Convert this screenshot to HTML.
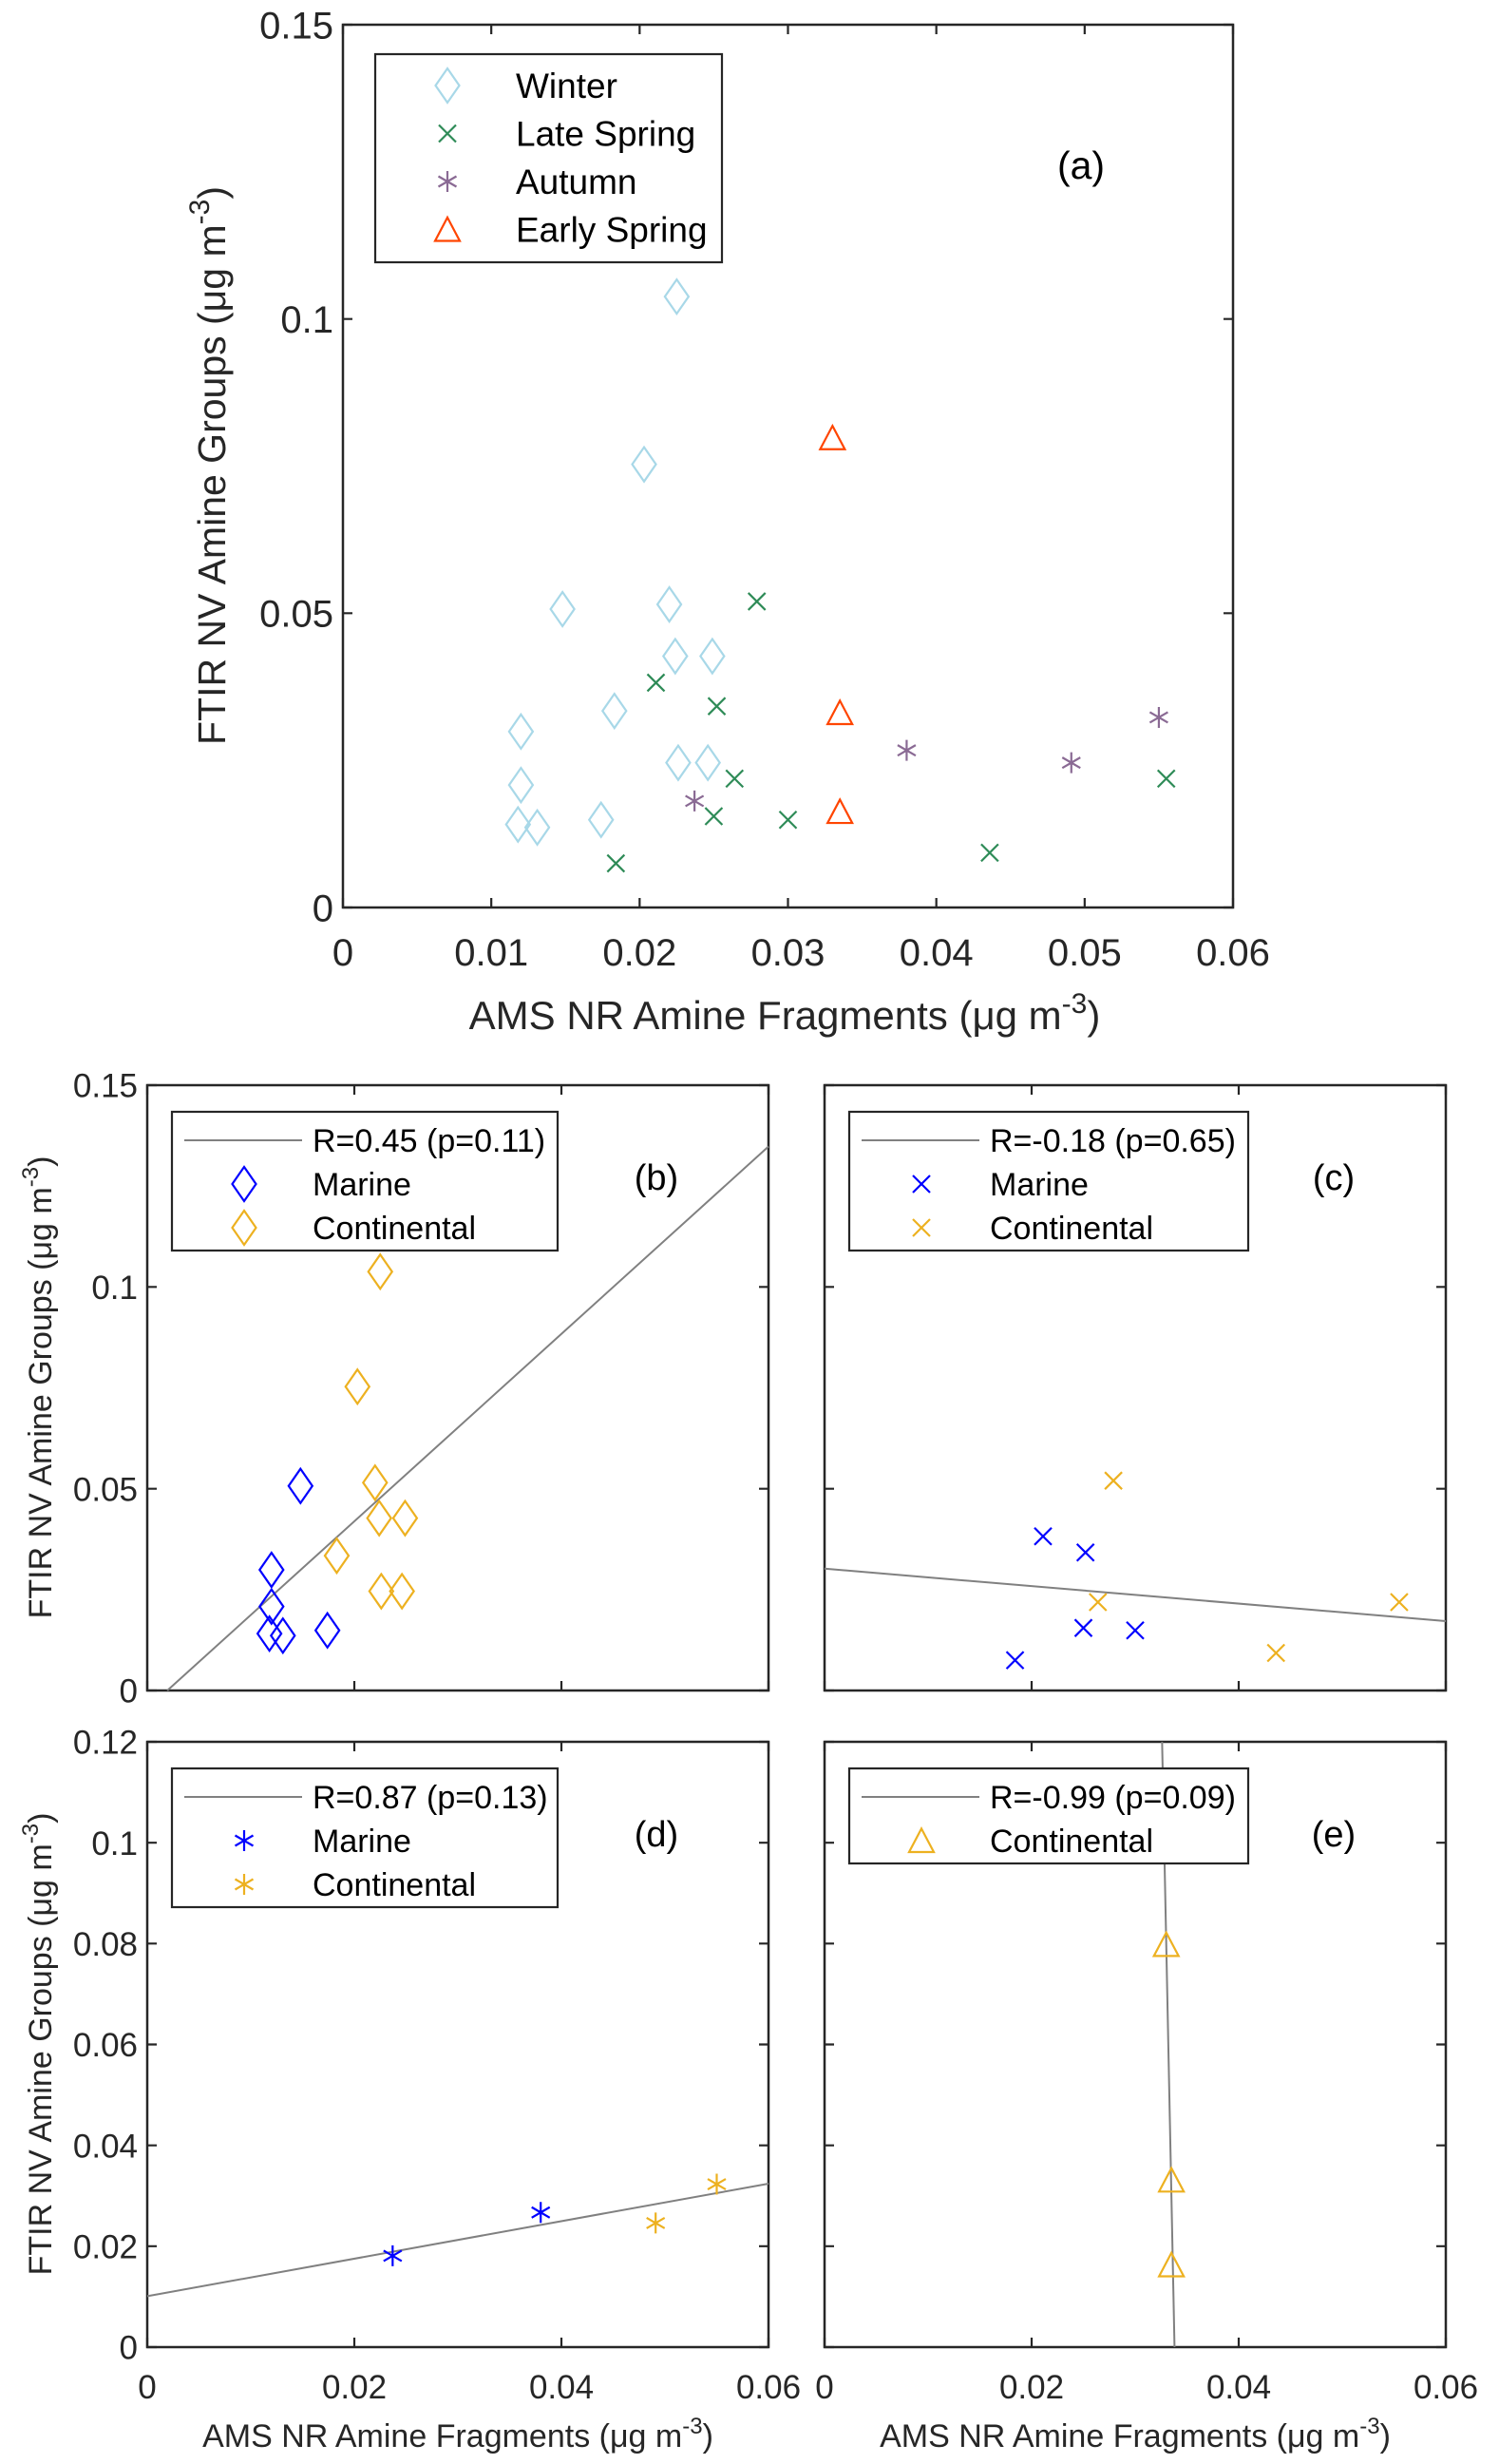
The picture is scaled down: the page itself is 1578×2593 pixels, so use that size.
<!DOCTYPE html>
<html><head><meta charset="utf-8">
<style>
html,body{margin:0;padding:0;background:#fff;}
svg{display:block;font-family:"Liberation Sans",Arial,sans-serif;}
</style></head>
<body>
<svg id="fig" width="1578" height="2593" viewBox="0 0 1578 2593" xmlns="http://www.w3.org/2000/svg"></svg>
<script>
// ---- Data ----
const winterX = [0.0225,0.0203,0.0148,0.0220,0.0224,0.0249,0.0183,0.0120,0.0120,0.0118,0.0131,0.0174,0.0226,0.0246];
const winterY = [0.1038,0.0753,0.0507,0.0515,0.0427,0.0427,0.0334,0.0299,0.0208,0.0141,0.0136,0.0149,0.0246,0.0246];
const winterMarine = [0,0,1,0,0,0,0,1,1,1,1,1,0,0];
const lateX = [0.0279,0.0211,0.0252,0.0264,0.0250,0.0300,0.0184,0.0436,0.0555];
const lateY = [0.0520,0.0382,0.0342,0.0219,0.0155,0.0149,0.0075,0.0093,0.0219];
const lateMarine = [0,1,1,0,1,1,1,0,0];
const autumnX = [0.0237,0.0380,0.0491,0.0550];
const autumnY = [0.0181,0.0267,0.0246,0.0323];
const autumnMarine = [1,1,0,0];
const earlyX = [0.0330,0.0335,0.0335];
const earlyY = [0.0798,0.0331,0.0163];
const fitB = [[0.00194,0],[0.06,0.1348]];
const fitC = [[0,0.0302],[0.06,0.0172]];
const fitD = [[0,0.0101],[0.06,0.0324]];
const fitE = [[0.0326,0.12],[0.0338,0]];
const xTicksA = [0,0.01,0.02,0.03,0.04,0.05,0.06];
const xTickLabelsA = ["0","0.01","0.02","0.03","0.04","0.05","0.06"];
const yTicks15 = [0,0.05,0.1,0.15];
const yTickLabels15 = ["0","0.05","0.1","0.15"];
const xTicksS = [0,0.02,0.04,0.06];
const xTickLabelsS = ["0","0.02","0.04","0.06"];
const yTicks12 = [0,0.02,0.04,0.06,0.08,0.1,0.12];
const yTickLabels12 = ["0","0.02","0.04","0.06","0.08","0.1","0.12"];

const NS="http://www.w3.org/2000/svg";
const svg=document.getElementById('fig');
function mk(tag,attrs,parent,name,txt){
  const e=document.createElementNS(NS,tag);
  for(const k in attrs) e.setAttribute(k,attrs[k]);
  
  
  if(txt!==undefined) e.textContent=txt;
  (parent||svg).appendChild(e);
  return e;
}
const C={winter:'#a8d8e8',late:'#2e8b57',autumn:'#8a6a94',early:'#ff4500',marine:'#0000ff',cont:'#edb120'};

function marker(g,type,cx,cy,col,name){
  let e;
  if(type==='d'){
    const w=12.5,h=18;
    e=mk('polygon',{points:`${cx},${cy-h} ${cx+w},${cy} ${cx},${cy+h} ${cx-w},${cy}`,fill:'none',stroke:col,'stroke-width':2.2},g,name);
  }else if(type==='x'){
    const r=9;
    e=mk('path',{d:`M${cx-r},${cy-r}L${cx+r},${cy+r}M${cx-r},${cy+r}L${cx+r},${cy-r}`,stroke:col,'stroke-width':2.2,fill:'none'},g,name);
  }else if(type==='*'){
    const r=11,r2=9.5;
    e=mk('path',{d:`M${cx},${cy-r}L${cx},${cy+r}M${cx-r2},${cy-r2*0.58}L${cx+r2},${cy+r2*0.58}M${cx-r2},${cy+r2*0.58}L${cx+r2},${cy-r2*0.58}`,stroke:col,'stroke-width':2.2,fill:'none'},g,name);
  }else{
    const w=13,h=12;
    e=mk('polygon',{points:`${cx},${cy-h*1.05} ${cx+w},${cy+h} ${cx-w},${cy+h}`,fill:'none',stroke:col,'stroke-width':2.2},g,name);
  }
  return e;
}

function axes(o){
  const g=mk('g',{},svg,o.name);
  const sx=v=>o.x0+(v-o.xmin)/(o.xmax-o.xmin)*(o.x1-o.x0);
  const sy=v=>o.y1-(v-o.ymin)/(o.ymax-o.ymin)*(o.y1-o.y0);
  mk('rect',{x:o.x0,y:o.y0,width:o.x1-o.x0,height:o.y1-o.y0,fill:'none',stroke:'#262626','stroke-width':2.5},g,'plot-frame');
  const tl=10;
  o.xt.forEach((v,i)=>{
    const X=sx(v);
    mk('path',{d:`M${X},${o.y1}v${-tl}M${X},${o.y0}v${tl}`,stroke:'#262626','stroke-width':2.2},g,'x-tick');
    if(o.xl) mk('text',{x:X,y:o.xly,'text-anchor':'middle','font-size':o.fs,fill:'#262626'},g,'x-tick-label',o.xl[i]);
  });
  o.yt.forEach((v,i)=>{
    const Y=sy(v);
    mk('path',{d:`M${o.x0},${Y}h${tl}M${o.x1},${Y}h${-tl}`,stroke:'#262626','stroke-width':2.2},g,'y-tick');
    if(o.yl) mk('text',{x:o.x0-10,y:Y+o.fs*0.36,'text-anchor':'end','font-size':o.fs,fill:'#262626'},g,'y-tick-label',o.yl[i]);
  });
  return {g,sx,sy};
}

// ---- Panel (a) ----
const A=axes({name:'panel-a',x0:361,x1:1298,y0:26,y1:955,xmin:0,xmax:0.06,ymin:0,ymax:0.15,xt:xTicksA,xl:xTickLabelsA,yt:yTicks15,yl:yTickLabels15,fs:40,xly:1016});
const ga=mk('g',{},A.g,'panel-a-points');
winterX.forEach((v,i)=>marker(ga,'d',A.sx(v),A.sy(winterY[i]),C.winter,'winter-point'));
lateX.forEach((v,i)=>marker(ga,'x',A.sx(v),A.sy(lateY[i]),C.late,'late-spring-point'));
autumnX.forEach((v,i)=>marker(ga,'*',A.sx(v),A.sy(autumnY[i]),C.autumn,'autumn-point'));
earlyX.forEach((v,i)=>marker(ga,'t',A.sx(v),A.sy(earlyY[i]),C.early,'early-spring-point'));
const la=mk('g',{},A.g,'legend-a');
mk('rect',{x:395,y:57,width:365,height:219,fill:'#fff',stroke:'#262626','stroke-width':2.2},la,'legend-box');
[['d','Winter',C.winter],['x','Late Spring',C.late],['*','Autumn',C.autumn],['t','Early Spring',C.early]].forEach((r,i)=>{
  const cy=90+i*50.5;
  marker(la,r[0],471,cy,r[2],'legend-marker');
  mk('text',{x:543,y:cy+13,'font-size':37,fill:'#000'},la,'legend-entry',r[1]);
});
mk('text',{x:1138,y:188,'font-size':41,'text-anchor':'middle',fill:'#000'},A.g,'panel-label-a','(a)');
const xla=mk('text',{x:826,y:1083,'font-size':42,'text-anchor':'middle',fill:'#262626'},A.g,'x-axis-title-a');
xla.innerHTML='AMS NR Amine Fragments (μg m<tspan dy="-17" font-size="30">-3</tspan><tspan dy="17">)</tspan>';
const yla=mk('text',{x:0,y:0,'font-size':41,'text-anchor':'middle',fill:'#262626',transform:'translate(237,490) rotate(-90)'},A.g,'y-axis-title-a');
yla.innerHTML='FTIR NV Amine Groups (μg m<tspan dy="-17" font-size="30">-3</tspan><tspan dy="17">)</tspan>';

// ---- Small panels ----
function small(o){
  const P=axes({name:o.name,x0:o.x0,x1:o.x0+654,y0:o.y0,y1:o.y0+637,xmin:0,xmax:0.06,ymin:0,ymax:o.ymax,xt:xTicksS,xl:o.showX?xTickLabelsS:null,yt:o.yt,yl:o.showY?o.yl:null,fs:35,xly:2524});
  const f=o.fit;
  mk('line',{x1:P.sx(f[0][0]),y1:P.sy(f[0][1]),x2:P.sx(f[1][0]),y2:P.sy(f[1][1]),stroke:'#808080','stroke-width':2},P.g,'regression-line');
  const gp=mk('g',{},P.g,o.name+'-points');
  o.xs.forEach((v,i)=>marker(gp,o.m,P.sx(v),P.sy(o.ys[i]),o.mar[i]?C.marine:C.cont,o.mar[i]?'marine-point':'continental-point'));
  const lg=mk('g',{},P.g,'legend-'+o.tag);
  const lx=o.x0+26, ly=o.y0+28;
  mk('rect',{x:lx,y:ly,width:o.lw,height:o.rows.length*46+54,fill:'#fff',stroke:'#262626','stroke-width':2.2},lg,'legend-box');
  mk('line',{x1:lx+13,y1:ly+30,x2:lx+137,y2:ly+30,stroke:'#808080','stroke-width':2},lg,'legend-line');
  mk('text',{x:lx+148,y:ly+42,'font-size':34,fill:'#000'},lg,'legend-entry',o.rtext);
  o.rows.forEach((r,i)=>{
    const cy=ly+76+i*46;
    marker(lg,o.m,lx+76,cy,r[1],'legend-marker');
    mk('text',{x:lx+148,y:cy+12,'font-size':34,fill:'#000'},lg,'legend-entry',r[0]);
  });
  mk('text',{x:o.x0+536,y:o.y0+110,'font-size':38,'text-anchor':'middle',fill:'#000'},P.g,'panel-label-'+o.tag,'('+o.tag+')');
  if(o.showX){
    const t=mk('text',{x:o.x0+327,y:2575,'font-size':34,'text-anchor':'middle',fill:'#262626'},P.g,'x-axis-title-'+o.tag);
    t.innerHTML='AMS NR Amine Fragments (μg m<tspan dy="-14" font-size="24">-3</tspan><tspan dy="14">)</tspan>';
  }
  if(o.showY){
    const t=mk('text',{x:0,y:0,'font-size':34,'text-anchor':'middle',fill:'#262626',transform:`translate(54,${o.y0+318}) rotate(-90)`},P.g,'y-axis-title-'+o.tag);
    t.innerHTML='FTIR NV Amine Groups (μg m<tspan dy="-14" font-size="24">-3</tspan><tspan dy="14">)</tspan>';
  }
}
const twoCol=[['Marine',C.marine],['Continental',C.cont]];
small({name:'panel-b',tag:'b',x0:155,y0:1142,ymax:0.15,yt:yTicks15,yl:yTickLabels15,showY:true,showX:false,fit:fitB,xs:winterX,ys:winterY,mar:winterMarine,m:'d',rows:twoCol,rtext:'R=0.45 (p=0.11)',lw:406});
small({name:'panel-c',tag:'c',x0:868,y0:1142,ymax:0.15,yt:yTicks15,yl:null,showY:false,showX:false,fit:fitC,xs:lateX,ys:lateY,mar:lateMarine,m:'x',rows:twoCol,rtext:'R=-0.18 (p=0.65)',lw:420});
small({name:'panel-d',tag:'d',x0:155,y0:1833,ymax:0.12,yt:yTicks12,yl:yTickLabels12,showY:true,showX:true,fit:fitD,xs:autumnX,ys:autumnY,mar:autumnMarine,m:'*',rows:twoCol,rtext:'R=0.87 (p=0.13)',lw:406});
small({name:'panel-e',tag:'e',x0:868,y0:1833,ymax:0.12,yt:yTicks12,yl:null,showY:false,showX:true,fit:fitE,xs:earlyX,ys:earlyY,mar:[0,0,0],m:'t',rows:[['Continental',C.cont]],rtext:'R=-0.99 (p=0.09)',lw:420});
</script>
</body></html>
